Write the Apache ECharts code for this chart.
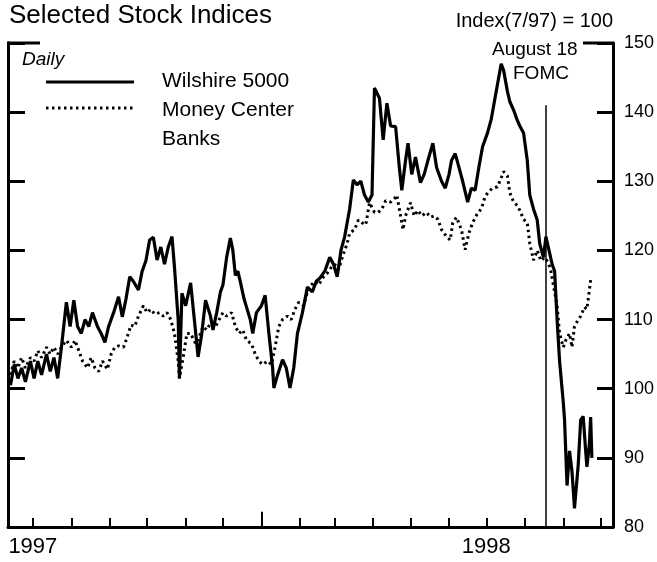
<!DOCTYPE html>
<html>
<head>
<meta charset="utf-8">
<title>Selected Stock Indices</title>
<script src="https://cdn.jsdelivr.net/npm/echarts@6/dist/echarts.min.js"></script>
<style>
  html, body { margin: 0; padding: 0; background: #fff; }
  #main { width: 657px; height: 562px; }
</style>
</head>
<body>
<div id="main"></div>
<script>
// x values are days counted from startDate (daily data)
var startDate = '1997-06-11';
var endDate = '1998-10-11';
var fomcDate = '1998-08-18';
var fomcTop = 141;
var yearTickDate = '1998-01-01';

var yMin = 80, yMax = 150, yStep = 10;

var wilshireDays = [2, 5, 8, 11, 14, 18, 21, 24, 27, 31, 34, 37, 40, 43, 47, 50, 53, 56, 59, 62,
  65, 68, 72, 75, 78, 81, 85, 89, 92, 95, 98, 101, 105, 108, 111, 114, 117, 120, 123, 126,
  129, 132, 134, 137, 138, 140, 143, 147, 150, 153, 156, 159, 163, 165, 168, 171, 173, 176, 179, 181,
  183, 185, 187, 190, 192, 195, 197, 200, 204, 207, 210, 213, 214, 217, 221, 224, 227, 230, 233, 237,
  241, 245, 248, 251, 255, 259, 262, 265, 268, 271, 275, 278, 281, 284, 287, 290, 293, 295, 299, 302,
  305, 308, 312, 315, 317, 320, 322, 325, 328, 332, 335, 338, 342, 345, 349, 352, 355, 357, 360, 363,
  366, 370, 373, 376, 379, 382, 386, 389, 392, 395, 397, 399, 402, 404, 407, 410, 412, 415, 418, 420,
  423, 426, 428, 431, 433, 436, 438, 440, 442, 444, 447, 448, 450, 452, 454, 456, 459, 461, 463, 465,
  466, 468, 469, 470];
var wilshireValues = [100.5, 103.5, 101.5, 103, 101, 104, 101.5, 104, 102, 105, 102.5, 104.5, 101.5, 106, 112.5, 109, 112.8, 109, 108, 110,
  109, 111, 109, 108, 106.7, 109, 111, 113.3, 110.4, 113, 116.2, 115.5, 114.3, 117, 118.5, 121.5, 121.9, 118.6, 120.5, 118,
  120.5, 122, 117.6, 110, 101.5, 113.8, 112, 115.3, 110, 104.6, 108, 112.8, 110.5, 108.5, 111, 114, 115, 119, 121.8, 120,
  116.4, 117, 115.5, 113, 111.8, 110, 108, 111, 112, 113.5, 108, 103, 100.1, 102, 104.2, 103, 100.1, 103, 108, 111,
  114.7, 114, 115.5, 116, 117, 119, 118, 116.2, 120, 122, 126, 130.2, 129.5, 130, 128, 127, 128, 143.5, 142, 136,
  141.3, 138, 137.9, 132, 128.7, 133, 135.5, 131, 133.5, 129.8, 131, 133, 135.5, 132, 130, 129, 131, 133, 134, 132,
  130, 127, 129, 128.7, 132, 135, 137, 139, 142, 145, 147, 146, 143, 141.5, 140.3, 138.8, 138, 137, 133, 128,
  126, 124.4, 121, 119, 122, 119.6, 118, 117, 110, 104, 98, 95.5, 86, 91, 88, 82.7, 89, 95.5, 96, 91,
  88.7, 92, 95.9, 90];

var bankDays = [2, 5, 8, 11, 14, 18, 21, 24, 27, 31, 34, 37, 40, 43, 47, 51, 54, 57, 60, 64,
  67, 70, 73, 76, 80, 83, 86, 89, 93, 96, 99, 102, 105, 109, 112, 115, 118, 122, 125, 128,
  131, 134, 137, 138, 141, 144, 147, 151, 154, 157, 160, 163, 167, 170, 173, 176, 180, 183, 186, 189,
  192, 196, 199, 202, 205, 209, 212, 215, 218, 221, 225, 228, 231, 234, 238, 241, 244, 247, 250, 254,
  257, 260, 263, 266, 270, 273, 275, 279, 282, 285, 288, 291, 295, 298, 301, 304, 308, 311, 313, 316,
  318, 320, 324, 327, 330, 333, 337, 340, 343, 346, 349, 353, 356, 358, 361, 365, 368, 371, 374, 378,
  381, 384, 387, 390, 394, 397, 399, 402, 404, 407, 410, 412, 415, 418, 420, 423, 426, 429, 432, 435,
  437, 440, 442, 444, 447, 449, 452, 454, 456, 459, 461, 464, 466, 469];
var bankValues = [102, 104, 103, 104.5, 103, 104.5, 104, 105.5, 104.5, 106, 105, 106, 105, 106, 107, 106, 107, 105.5, 104, 103,
  104.5, 103, 102.5, 104, 102.8, 105, 106, 106.2, 106, 107.5, 109.2, 109, 110.5, 112, 111, 111.5, 110.8, 111, 110.5, 111,
  110, 108, 104, 101.5, 104.5, 108, 108, 106.5, 107.5, 109, 108.5, 109.5, 109, 110, 111, 110.5, 111, 109, 108, 108.5,
  107, 106.5, 105, 104, 103.5, 104, 103.5, 106, 109, 110, 110.5, 110, 111.5, 112.5, 112, 114, 115, 115.5, 115, 116.2,
  116.7, 117.5, 118, 117.2, 119.5, 121, 122.5, 123, 124.4, 124, 123.7, 126.9, 125.5, 125.5, 126, 127.2, 127, 127.5, 128, 125,
  123, 125, 126.9, 125, 125.8, 125, 125.5, 124.8, 125, 124.5, 123, 122, 121.5, 124, 124.8, 123, 120.1, 122.5, 124, 125.4,
  126, 127.8, 128.5, 129, 129.2, 130.5, 131.4, 130.8, 128.3, 127, 126.5, 125.8, 124.5, 124, 121, 118.6, 120, 118.5, 119, 118.2,
  117, 114, 112, 108, 106, 107, 108, 106, 109, 110, 110.5, 111.8, 111.5, 115.7];

var DAY = 86400000;
function ts(s) { return Date.parse(s + 'T00:00:00Z'); }
var t0 = ts(startDate);
function pairs(days, values) {
  return days.map(function (d, i) { return [t0 + d * DAY, values[i]]; });
}

var font = 'Liberation Sans';
var chart = echarts.init(document.getElementById('main'));

var option = {
  useUTC: true,
  animation: false,
  backgroundColor: '#fff',
  textStyle: { fontFamily: font, color: '#000' },
  title: [
    { text: 'Selected Stock Indices', left: 9, top: 3, padding: 0,
      textStyle: { fontSize: 26, fontWeight: 'normal', color: '#000', fontFamily: font } },
    { text: 'Index(7/97) = 100', right: 44, top: 11, padding: 0,
      textStyle: { fontSize: 20, fontWeight: 'normal', color: '#000', fontFamily: font } }
  ],
  grid: { left: 8, right: 44, top: 43, bottom: 35, containLabel: false, outerBoundsMode: 'none' },
  xAxis: {
    type: 'time',
    min: ts(startDate),
    max: ts(endDate),
    minInterval: 30 * DAY,
    maxInterval: 30 * DAY,
    splitNumber: 16,
    axisLine: { lineStyle: { color: '#000', width: 3 } },
    axisTick: { inside: true, length: 9, lineStyle: { color: '#000', width: 2 } },
    splitLine: { show: false },
    axisLabel: {
      margin: 9,
      fontSize: 22,
      color: '#000',
      fontFamily: font,
      formatter: function (val) {
        var d = new Date(val);
        return (d.getUTCMonth() === 6 && d.getUTCDate() === 1) ? String(d.getUTCFullYear()) : '';
      }
    }
  },
  yAxis: [
    {
      type: 'value', position: 'right', min: yMin, max: yMax, interval: yStep,
      axisLine: { show: true, lineStyle: { color: '#000', width: 3 } },
      axisTick: { show: true, inside: true, length: 16, lineStyle: { color: '#000', width: 3 } },
      axisLabel: { margin: 11, fontSize: 18, color: '#000', fontFamily: font },
      splitLine: { show: false }
    },
    {
      type: 'value', position: 'left', min: yMin, max: yMax, interval: yStep,
      axisLine: { show: true, lineStyle: { color: '#000', width: 3 } },
      axisTick: { show: true, inside: true, length: 17, lineStyle: { color: '#000', width: 3 } },
      axisLabel: { show: false },
      splitLine: { show: false }
    }
  ],
  series: [
    {
      name: 'Wilshire 5000',
      type: 'line',
      data: pairs(wilshireDays, wilshireValues),
      showSymbol: false,
      lineStyle: { color: '#000', width: 3.2 },
      z: 3,
      markLine: {
        silent: true,
        symbol: 'none',
        label: { show: false },
        lineStyle: { color: '#000', type: 'solid' },
        data: [
          [{ coord: [ts(fomcDate), yMin], lineStyle: { width: 1.5 } }, { coord: [ts(fomcDate), fomcTop] }],
          [{ coord: [ts(yearTickDate), yMin], lineStyle: { width: 2 } }, { coord: [ts(yearTickDate), 82.2] }]
        ]
      }
    },
    {
      name: 'Money Center Banks',
      type: 'line',
      data: pairs(bankDays, bankValues),
      showSymbol: false,
      lineStyle: { color: '#000', width: 3, type: [2.5, 3.5] },
      z: 2
    }
  ],
  graphic: [
    // top ends of the frame
    { type: 'line', shape: { x1: 7, y1: 43, x2: 40, y2: 43 }, style: { stroke: '#000', lineWidth: 3 } },
    { type: 'line', shape: { x1: 583, y1: 43, x2: 614, y2: 43 }, style: { stroke: '#000', lineWidth: 3 } },
    // key
    { type: 'text', left: 22, top: 50, style: { text: 'Daily', font: 'italic 19px "Liberation Sans"', fill: '#000' } },
    { type: 'line', shape: { x1: 46, y1: 82, x2: 134, y2: 82 }, style: { stroke: '#000', lineWidth: 3 } },
    { type: 'line', shape: { x1: 46, y1: 108, x2: 134, y2: 108 }, style: { stroke: '#000', lineWidth: 3, lineDash: [2.5, 3.5] } },
    { type: 'text', left: 162, top: 71, style: { text: 'Wilshire 5000', font: '21px "Liberation Sans"', fill: '#000' } },
    { type: 'text', left: 162, top: 96, style: { text: 'Money Center\nBanks', font: '21px "Liberation Sans"', lineHeight: 29, fill: '#000' } },
    // FOMC note
    { type: 'text', left: 492, top: 40, style: { text: 'August 18', font: '19px "Liberation Sans"', fill: '#000' } },
    { type: 'text', left: 513, top: 64, style: { text: 'FOMC', font: '19px "Liberation Sans"', fill: '#000' } }
  ]
};

chart.setOption(option);
</script>
</body>
</html>
